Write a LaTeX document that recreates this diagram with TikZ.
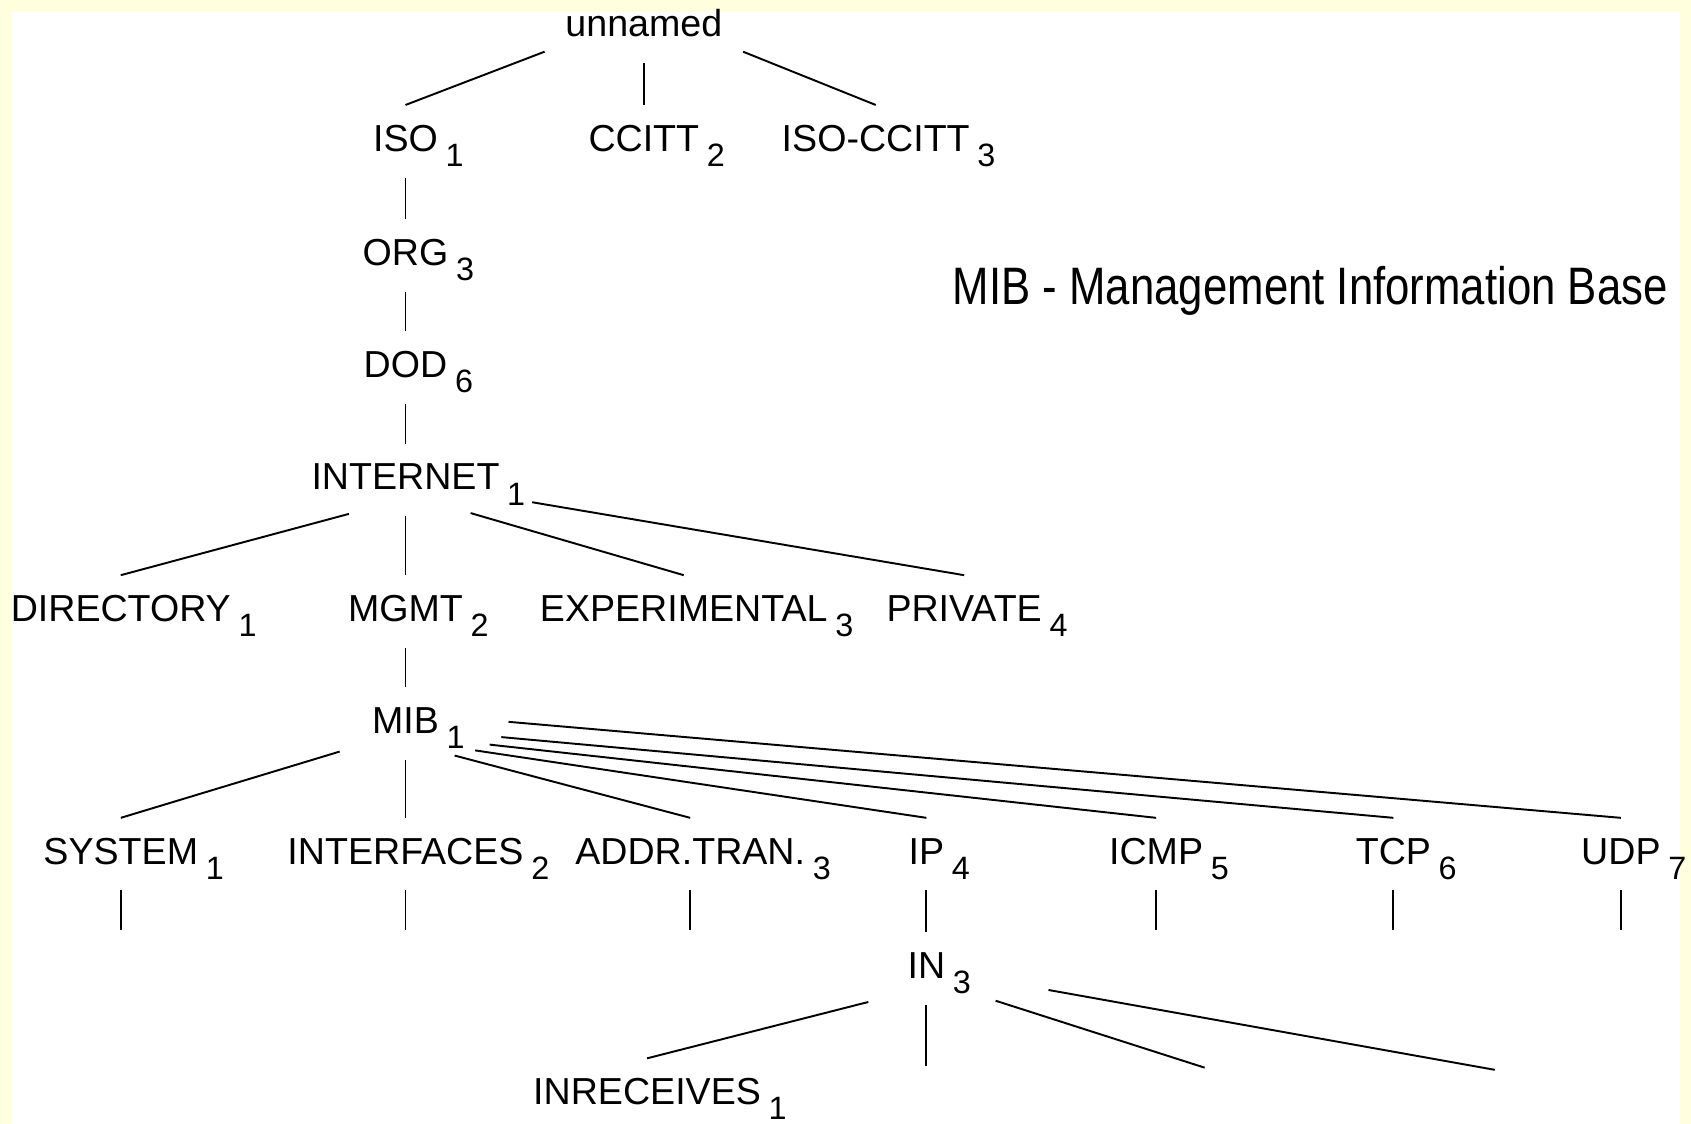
\documentclass[tikz,border=0pt]{standalone}
\usepackage{fontspec}
\setmainfont{Liberation Sans}
\usetikzlibrary{shapes.geometric}

\definecolor{paper}{RGB}{255,255,221}
\newcommand{\subnr}[1]{\rlap{\kern2.2pt\raisebox{-4.3pt}{\fontsize{9.2}{9.2}\selectfont #1}}}

\begin{document}
\begin{tikzpicture}[
  x=0.010784cm, y=-0.010784cm,
  oid/.style={ellipse, inner sep=0pt, minimum height=0.712cm, text height=7.5pt, text depth=1.8pt, font=\fontsize{10.7}{12}\selectfont},
  branch/.style={line width=0.55pt},
  title/.style={font=\fontsize{15}{18}\selectfont, xscale=0.83, transform shape, anchor=base},
]

\def\rowA{25}
\def\rowB{131}
\def\rowC{567}
\def\rowD{792}
\def\leafY{862}

% paper
\useasboundingbox (0,0) rectangle (1568,1042);
\fill[paper] (0,0) rectangle (1568,1042);
\fill[white] (11,11) rectangle (1558,1042);

\node[oid, minimum width=2.7cm] (root) at (597,\rowA) {unnamed};

\node[oid] (iso)      at (376,\rowB) {ISO\subnr{1}};
\node[oid] (ccitt)    at (597,\rowB) {CCITT\subnr{2}};
\node[oid] (isoccitt) at (812,\rowB) {ISO-CCITT\subnr{3}};

\draw[branch] (root.-166) -- (iso.north);
\draw[branch] (root) -- (ccitt.north);
\draw[branch] (root.-14) -- (isoccitt.north);

\node[oid] (org) at (376,237) {ORG\subnr{3}};
\node[oid] (dod) at (376,341) {DOD\subnr{6}};
\node[oid, minimum width=3.2cm] (internet) at (376,445) {INTERNET\subnr{1}};

\draw[branch] (iso) -- (org.north);
\draw[branch] (org) -- (dod.north);
\draw[branch] (dod) -- (internet.north);

\node[title] (heading) at (1215,282) {MIB - Management Information Base};

\node[oid] (directory)    at (112,\rowC) {DIRECTORY\subnr{1}};
\node[oid] (mgmt)         at (376,\rowC) {MGMT\subnr{2}};
\node[oid] (experimental) at (634,\rowC) {EXPERIMENTAL\subnr{3}};
\node[oid] (private)      at (894,\rowC) {PRIVATE\subnr{4}};

\draw[branch] (internet.-149) -- (directory.north);
\draw[branch] (internet) -- (mgmt.north);
\draw[branch] (internet.-27) -- (experimental.north);
\draw[branch] (internet.-10) -- (private.north);

\node[oid, minimum width=2.05cm] (mib) at (376,671) {MIB\subnr{1}};

\draw[branch] (mgmt) -- (mib.north);

\node[oid] (system)     at (112,\rowD)  {SYSTEM\subnr{1}};
\node[oid] (interfaces) at (376,\rowD)  {INTERFACES\subnr{2}};
\node[oid] (addrtran)   at (640,\rowD)  {ADDR.TRAN.\subnr{3}};
\node[oid] (ip)         at (859,\rowD)  {IP\subnr{4}};
\node[oid] (icmp)       at (1072,\rowD) {ICMP\subnr{5}};
\node[oid] (tcp)        at (1292,\rowD) {TCP\subnr{6}};
\node[oid] (udp)        at (1503,\rowD) {UDP\subnr{7}};

\foreach \kid/\ang in {system/-157,interfaces/-90,addrtran/-33,ip/-21,icmp/-14,tcp/-8,udp/1}
  \draw[branch] (mib.\ang) -- (\kid.north);

% open ends below the groups
\coordinate (systemleaf)     at (112,\leafY);
\coordinate (interfacesleaf) at (376,\leafY);
\coordinate (addrtranleaf)   at (640,\leafY);
\coordinate (icmpleaf)       at (1072,\leafY);
\coordinate (tcpleaf)        at (1292,\leafY);
\coordinate (udpleaf)        at (1503,\leafY);

\foreach \kid in {system,interfaces,addrtran,icmp,tcp,udp}
  \draw[branch] (\kid) -- (\kid leaf);

\node[oid, minimum width=3.02cm] (in) at (859,898) {IN\subnr{3}};
\node[oid] (inreceives) at (600,1015) {INRECEIVES\subnr{1}};

\draw[branch] (ip) -- (in.north);

\coordinate (inleafB) at (859,988);
\coordinate (inleafC) at (1117,990);
\coordinate (inleafD) at (1386,992);

\draw[branch] (in.-150) -- (inreceives.north);
\draw[branch] (in) -- (inleafB);
\draw[branch] (in.-25) -- (inleafC);
\draw[branch] (in.-10) -- (inleafD);

\end{tikzpicture}
\end{document}
